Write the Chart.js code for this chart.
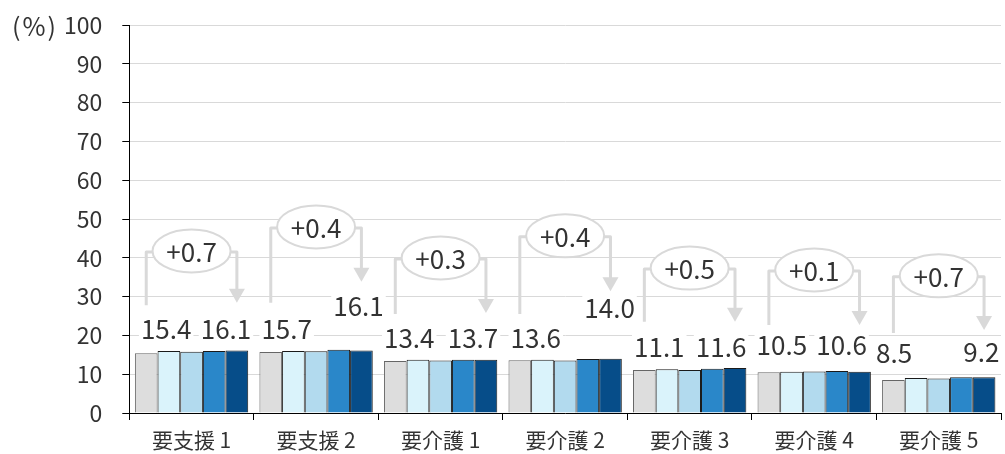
<!DOCTYPE html>
<html>
<head>
<meta charset="utf-8">
<script src="https://cdn.jsdelivr.net/npm/chart.js@4/dist/chart.umd.min.js"></script>
<style>
  html, body { margin: 0; padding: 0; background: #fff; }
  #wrap { width: 1005px; height: 454px; position: relative; }
</style>
</head>
<body>
<div id="wrap"><canvas id="chart"></canvas></div>
<script>
// ── Data ──
const categories = ['要支援 1', '要支援 2', '要介護 1', '要介護 2', '要介護 3', '要介護 4', '要介護 5'];
const series1 = [15.4, 15.7, 13.4, 13.6, 11.1, 10.5, 8.5];
const series2 = [16.0, 16.0, 13.7, 13.7, 11.3, 10.6, 9.0];
const series3 = [15.8, 15.9, 13.5, 13.5, 11.1, 10.7, 8.9];
const series4 = [16.0, 16.3, 13.7, 13.9, 11.4, 10.8, 9.2];
const series5 = [16.1, 16.1, 13.7, 14.0, 11.6, 10.6, 9.2];
const diffLabels = ['+0.7', '+0.4', '+0.3', '+0.4', '+0.5', '+0.1', '+0.7'];
const yTicks = [0, 10, 20, 30, 40, 50, 60, 70, 80, 90, 100];

// ── Annotation layout (axis units / px offsets) ──
const bracketTop = [41.5, 47.7, 39.7, 45.4, 37.1, 36.6, 35.1];
const leftFoot   = [27.8, 28.4, 25.5, 25.5, 23.5, 22.7, 20.6];
const arrowTip   = [28.4, 33.8, 25.8, 31.4, 23.5, 22.7, 21.4];
const firstLabelY = [21.9, 21.9, 19.6, 19.6, 17.3, 17.8, 15.7];
const lastLabelY  = [21.9, 27.8, 19.6, 27.3, 17.3, 17.8, 16.0];
const firstLabelDx = [6, 2, 0, 2, 1, -1, -6];
const lastLabelDx  = [3, 11, 1, 13, 0, -4, 4];

const colors = ['#DDDDDD', '#DAF3FB', '#B2DAEE', '#2A87C9', '#064D89'];
const FONT = '"Noto Sans CJK JP", "Noto Sans", sans-serif';
const TEXT = '#333333';
const LINE = '#D9D9D9';

const allSeries = [series1, series2, series3, series4, series5];

// ── Brackets + value labels ──
const annotations = {
  id: 'annotations',
  afterDatasetsDraw(chart) {
    const ctx = chart.ctx;
    const y = chart.scales.y;
    const first = chart.getDatasetMeta(0).data;
    const last = chart.getDatasetMeta(4).data;
    ctx.save();
    categories.forEach((_, i) => {
      const b1 = first[i], b5 = last[i];
      const xl = b1.x, xr = b5.x;
      const yt = y.getPixelForValue(bracketTop[i]);
      const yf = y.getPixelForValue(leftFoot[i]);
      const ya = y.getPixelForValue(arrowTip[i]);
      const cx = (xl + xr) / 2;

      // bracket
      ctx.strokeStyle = LINE;
      ctx.lineWidth = 3;
      ctx.lineJoin = 'round';
      ctx.beginPath();
      ctx.moveTo(xl, yf);
      ctx.lineTo(xl, yt);
      ctx.lineTo(xr, yt);
      ctx.lineTo(xr, ya - 13);
      ctx.stroke();
      // arrow head
      ctx.fillStyle = LINE;
      ctx.beginPath();
      ctx.moveTo(xr - 8, ya - 14);
      ctx.lineTo(xr + 8, ya - 14);
      ctx.lineTo(xr, ya);
      ctx.closePath();
      ctx.fill();

      // ellipse with diff
      ctx.beginPath();
      ctx.ellipse(cx, yt - 1, 39, 21.5, 0, 0, Math.PI * 2);
      ctx.fillStyle = '#fff';
      ctx.fill();
      ctx.lineWidth = 2;
      ctx.strokeStyle = LINE;
      ctx.stroke();
      ctx.fillStyle = TEXT;
      ctx.font = '26px ' + FONT;
      ctx.textAlign = 'center';
      ctx.textBaseline = 'middle';
      ctx.fillText(diffLabels[i], cx, yt);

      // value labels
      ctx.font = '26px ' + FONT;
      const drawLabel = (txt, x, yy, align) => {
        const w = ctx.measureText(txt).width;
        const x0 = align === 'left' ? x : x - w;
        ctx.fillStyle = '#fff';
        ctx.fillRect(x0 - 2, yy - 14, w + 4, 28);
        ctx.fillStyle = TEXT;
        ctx.textAlign = align;
        ctx.fillText(txt, x, yy + 1);
      };
      drawLabel(series1[i].toFixed(1), b1.x - b1.width / 2 + firstLabelDx[i], y.getPixelForValue(firstLabelY[i]), 'left');
      drawLabel(series5[i].toFixed(1), b5.x + b5.width / 2 + lastLabelDx[i], y.getPixelForValue(lastLabelY[i]), 'right');
    });

    // unit label
    ctx.font = '25px ' + FONT;
    ctx.fillStyle = TEXT;
    ctx.textAlign = 'left';
    ctx.textBaseline = 'middle';
    ctx.letterSpacing = '2px';
    ctx.fillText('(%)', 12, y.getPixelForValue(100) + 1);
    ctx.restore();
  }
};

new Chart(document.getElementById('chart'), {
  type: 'bar',
  data: {
    labels: categories,
    datasets: allSeries.map((s, i) => ({
      data: s,
      backgroundColor: colors[i],
      borderColor: i === 0 ? '#666' : '#1a1a1a',
      borderWidth: 1,
      categoryPercentage: 0.91,
      barPercentage: 1.0,
    }))
  },
  options: {
    responsive: true,
    maintainAspectRatio: false,
    animation: false,
    layout: { padding: { top: 25, right: 4, left: 44, bottom: 0 } },
    plugins: { legend: { display: false }, tooltip: { enabled: false } },
    scales: {
      x: {
        afterFit: (axis) => { axis.height = 41; },
        grid: { drawOnChartArea: false, tickColor: '#000', tickLength: 7, offset: true },
        border: { color: '#000', width: 1 },
        ticks: { color: TEXT, font: { family: FONT, size: 21, lineHeight: 1 }, padding: 10, maxRotation: 0 },
      },
      y: {
        min: 0, max: 100,
        afterBuildTicks: (axis) => { axis.ticks = yTicks.map(v => ({ value: v })); },
        afterFit: (axis) => { axis.paddingTop = 0; axis.paddingBottom = 0; },
        grid: { color: LINE, lineWidth: 1, tickColor: '#000', tickLength: 7 },
        border: { color: '#000', width: 1 },
        ticks: { color: TEXT, font: { family: FONT, size: 23 }, padding: 20 },
      }
    }
  },
  plugins: [annotations]
});
</script>
</body>
</html>
